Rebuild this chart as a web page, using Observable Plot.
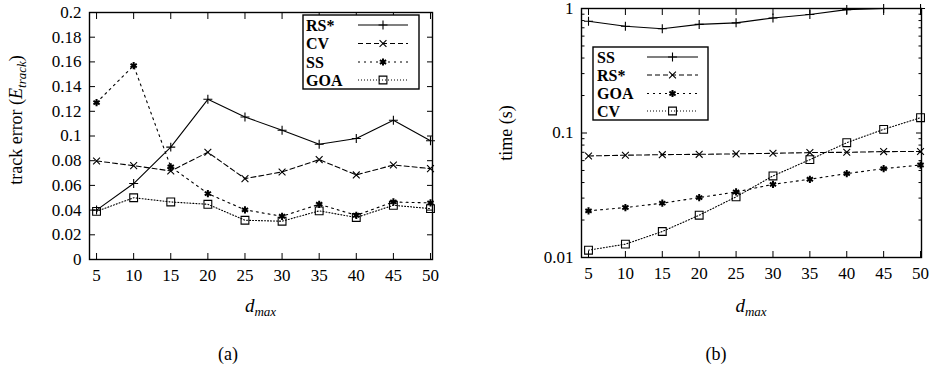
<!DOCTYPE html>
<html><head><meta charset="utf-8">
<script src="https://cdn.jsdelivr.net/npm/d3@7"></script>
<script src="https://cdn.jsdelivr.net/npm/@observablehq/plot@0.6"></script>
<style>
body{margin:0;background:#fff;}
#fig{position:relative;width:936px;height:367px;font-family:"Liberation Serif",serif;color:#000;background:#fff;}
.panel{position:absolute;top:0;}
.cap{position:absolute;font-size:18px;transform:translate(-50%,-50%);white-space:nowrap;}
</style></head><body><div id="fig"></div>
<script>
// ---- data ----
const dmax = [5, 10, 15, 20, 25, 30, 35, 40, 45, 50];
// panel (a): track error
const errNames = ["RS*", "CV", "SS", "GOA"];
const errRS  = [0.040, 0.0615, 0.091, 0.1297, 0.1154, 0.1046, 0.0933, 0.098, 0.1127, 0.0962];
const errCV  = [0.0798, 0.076, 0.0717, 0.0868, 0.0655, 0.0709, 0.0809, 0.0685, 0.0765, 0.0736];
const errSS  = [0.127, 0.157, 0.075, 0.0534, 0.0402, 0.035, 0.0447, 0.0358, 0.0466, 0.0458];
const errGOA = [0.039, 0.050, 0.0466, 0.0447, 0.0318, 0.031, 0.0394, 0.034, 0.0439, 0.0412];
// panel (b): time (s)
const timeNames = ["SS", "RS*", "GOA", "CV"];
const timeSS  = [0.79, 0.72, 0.687, 0.745, 0.767, 0.84, 0.895, 0.98, 1.0, 1.0];
const timeRS  = [0.0654, 0.0663, 0.067, 0.0674, 0.068, 0.0687, 0.0696, 0.070, 0.0709, 0.071];
const timeGOA = [0.0237, 0.0252, 0.0273, 0.0303, 0.0336, 0.0387, 0.0425, 0.0472, 0.0517, 0.0553];
const timeCV  = [0.01145, 0.0128, 0.01617, 0.02186, 0.0307, 0.0452, 0.0611, 0.0836, 0.107, 0.1327];
// tick labels
const errTicks = [0, 0.02, 0.04, 0.06, 0.08, 0.1, 0.12, 0.14, 0.16, 0.18, 0.2];
const timeTicks = [0.01, 0.1, 1];
const timeMinor = [0.02,0.03,0.04,0.05,0.06,0.07,0.08,0.09,0.2,0.3,0.4,0.5,0.6,0.7,0.8,0.9];

// ---- styles (gnuplot line types 1..4) ----
const lineTypes = [
  {dash: null,  symbol: "plus",     r: 3.0, sw: 1.1},
  {dash: "5,3", symbol: "times",    r: 3.2, sw: 1.1},
  {dash: "2,4", symbol: "asterisk", r: 3.4, sw: 2.0},
  {dash: "1,2", symbol: "square",   r: 4.4, sw: 1.1}
];
const symMap = {plus: d3.symbolPlus, times: d3.symbolTimes, asterisk: d3.symbolAsterisk, square: d3.symbolSquare};
const FONT = '"Liberation Serif", serif';

function panel(opts) {
  const {names, values, yScale, yTicks, yMinor, xDomain, m, legend} = opts;
  const marks = [];
  names.forEach((name, i) => {
    const rows = dmax.map((d, j) => ({d, v: values[i][j]}));
    const lt = lineTypes[i];
    marks.push(Plot.line(rows, {x: "d", y: "v", stroke: "black", strokeWidth: 1.1, strokeDasharray: lt.dash || undefined}));
    marks.push(Plot.dot(rows, {x: "d", y: "v", symbol: () => lt.symbol, r: lt.r, stroke: "black", fill: "none", strokeWidth: lt.sw}));
  });
  const fmt = d => String(d);
  marks.push(
    Plot.axisX({ticks: dmax, anchor: "bottom", tickSize: 0, tickPadding: 9, label: null, tickFormat: fmt}),
    Plot.axisX({ticks: dmax, anchor: "bottom", tickSize: -6, fill: "none", label: null}),
    Plot.axisX({ticks: dmax, anchor: "top", tickSize: -6, fill: "none", label: null}),
    Plot.axisY({ticks: yTicks, anchor: "left", tickSize: 0, tickPadding: 8, label: null, tickFormat: fmt}),
    Plot.axisY({ticks: yTicks, anchor: "left", tickSize: -6, fill: "none", label: null}),
    Plot.axisY({ticks: yTicks, anchor: "right", tickSize: -6, fill: "none", label: null})
  );
  if (yMinor) {
    marks.push(
      Plot.axisY({ticks: yMinor, anchor: "left", tickSize: -3.5, fill: "none", label: null}),
      Plot.axisY({ticks: yMinor, anchor: "right", tickSize: -3.5, fill: "none", label: null})
    );
  }
  marks.push(Plot.frame({stroke: "black", strokeWidth: 1.4}));
  const svg = Plot.plot({
    width: 468, height: 320,
    marginLeft: m[0], marginRight: m[1], marginTop: m[2], marginBottom: m[3],
    style: {fontFamily: FONT, fontSize: "17px", color: "black", background: "white", overflow: "visible"},
    x: {domain: xDomain, label: null},
    y: {...yScale, label: null},
    marks
  });
  const s = d3.select(svg);
  // legend
  const g = s.append("g");
  g.append("rect").attr("x", legend.x).attr("y", legend.y).attr("width", legend.w).attr("height", legend.h)
    .attr("fill", "white").attr("stroke", "black").attr("stroke-width", 1.4);
  names.forEach((name, i) => {
    const yy = legend.rows[i];
    const lt = lineTypes[i];
    g.append("text").attr("x", legend.tx).attr("y", yy).attr("dy", "0.36em").attr("text-anchor", "start")
      .attr("font-family", FONT).attr("font-size", 16).attr("font-weight", "bold").attr("fill", "black").text(name);
    g.append("line").attr("x1", legend.l1).attr("x2", legend.l2).attr("y1", yy).attr("y2", yy)
      .attr("stroke", "black").attr("stroke-width", 1.1).attr("stroke-dasharray", lt.dash);
    g.append("path").attr("transform", `translate(${(legend.l1 + legend.l2) / 2},${yy})`)
      .attr("d", d3.symbol(symMap[lt.symbol], lt.r * lt.r * Math.PI)())
      .attr("fill", "none").attr("stroke", "black").attr("stroke-width", lt.sw);
  });
  // x label: d_max
  const xl = s.append("text").attr("x", (m[0] + 468 - m[1]) / 2).attr("y", 312)
    .attr("text-anchor", "middle").attr("font-family", FONT).attr("font-size", 19).attr("fill", "black");
  xl.append("tspan").attr("font-style", "italic").text("d");
  xl.append("tspan").attr("font-style", "italic").attr("font-size", 13).attr("dy", 4).text("max");
  // y label
  const yl = s.append("text").attr("transform", `translate(${opts.ylab.x},${opts.ylab.y}) rotate(-90)`)
    .attr("text-anchor", "middle").attr("dy", "0.35em").attr("font-family", FONT).attr("font-size", 18).attr("fill", "black");
  opts.ylab.build(yl);
  return svg;
}

const fig = document.getElementById("fig");

const a = panel({
  names: errNames,
  values: [errRS, errCV, errSS, errGOA],
  yScale: {domain: [0, 0.2]},
  yTicks: errTicks,
  xDomain: [4.05, 50.27],
  m: [89, 36, 12, 61],
  legend: {x: 303, y: 15, w: 116, h: 74, tx: 306, l1: 358, l2: 408, rows: [25, 43.5, 62, 80]},
  ylab: {x: 16, y: 120, build: t => {
    t.append("tspan").text("track error (");
    t.append("tspan").attr("font-style", "italic").text("E");
    t.append("tspan").attr("font-style", "italic").attr("font-size", 13).attr("dy", 4).text("track");
    t.append("tspan").attr("dy", -4).text(")");
  }}
});
a.classList.add("panel"); a.style.left = "0px";
fig.appendChild(a);

const b = panel({
  names: timeNames,
  values: [timeSS, timeRS, timeGOA, timeCV],
  yScale: {type: "log", domain: [0.01, 1]},
  yTicks: timeTicks,
  yMinor: timeMinor,
  xDomain: [4.05, 50.13],
  m: [113, 15, 8, 63],
  legend: {x: 125, y: 47, w: 115, h: 73, tx: 129, l1: 179, l2: 230, rows: [57, 75, 93.5, 111]},
  ylab: {x: 38, y: 133, build: t => { t.append("tspan").text("time (s)"); }}
});
b.classList.add("panel"); b.style.left = "468px";
fig.appendChild(b);

for (const [txt, x] of [["(a)", 228], ["(b)", 716]]) {
  const d = document.createElement("div");
  d.className = "cap"; d.textContent = txt;
  d.style.left = x + "px"; d.style.top = "354px";
  fig.appendChild(d);
}
</script></body></html>
